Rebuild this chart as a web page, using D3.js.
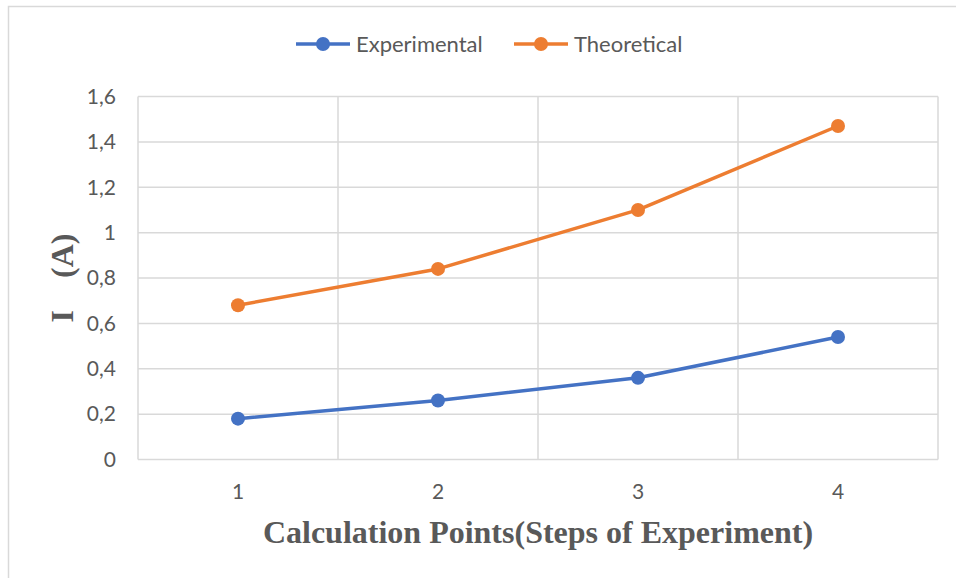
<!DOCTYPE html>
<html>
<head>
<meta charset="utf-8">
<script src="https://cdn.jsdelivr.net/npm/d3@7"></script>
<style>
  body { margin: 0; background: #fff; }
  svg { display: block; }
</style>
</head>
<body>
<svg width="956" height="578"></svg>
<script>
var categories = [1, 2, 3, 4];
var experimental = [0.18, 0.26, 0.36, 0.54];
var theoretical = [0.68, 0.84, 1.10, 1.47];
var yTicks = [0, 0.2, 0.4, 0.6, 0.8, 1, 1.2, 1.4, 1.6];
var seriesNames = ["Experimental", "Theoretical"];
var seriesColors = ["#4472C4", "#ED7D31"];

var svg = d3.select("svg");
var grey = "#595959";
var tickFont = "Lato, 'Open Sans', sans-serif";

// chart frame (only top and left edges are visible in the picture)
svg.append("rect")
  .attr("x", 8.5).attr("y", 6.5)
  .attr("width", 1000).attr("height", 1000)
  .attr("fill", "none").attr("stroke", "#d9d9d9").attr("stroke-width", 1.5);

var plotL = 138, plotR = 938, plotT = 96.5, plotB = 459.5;

var x = d3.scaleBand().domain(categories).range([plotL, plotR]);
var y = d3.scaleLinear().domain([0, 1.6]).range([plotB, plotT]);

// horizontal grid
svg.append("g").selectAll("line")
  .data(yTicks).enter().append("line")
  .attr("x1", plotL).attr("x2", plotR)
  .attr("y1", function(d) { return y(d); })
  .attr("y2", function(d) { return y(d); })
  .attr("stroke", "#d9d9d9").attr("stroke-width", 1.5);

// vertical grid at category boundaries
var bounds = categories.map(function(c) { return x(c); }).concat([plotR]);
svg.append("g").selectAll("line")
  .data(bounds).enter().append("line")
  .attr("x1", function(d) { return d; }).attr("x2", function(d) { return d; })
  .attr("y1", plotT).attr("y2", plotB)
  .attr("stroke", "#d9d9d9").attr("stroke-width", 1.5);

// y tick labels
svg.append("g").selectAll("text")
  .data(yTicks).enter().append("text")
  .attr("x", 116)
  .attr("y", function(d) { return y(d); })
  .attr("dy", "0.35em")
  .attr("text-anchor", "end")
  .attr("font-family", tickFont).attr("font-size", "21px")
  .attr("fill", grey)
  .text(function(d) { return String(d).replace(".", ","); });

// x tick labels
svg.append("g").selectAll("text")
  .data(categories).enter().append("text")
  .attr("x", function(d) { return x(d) + x.bandwidth() / 2; })
  .attr("y", 499)
  .attr("text-anchor", "middle")
  .attr("font-family", tickFont).attr("font-size", "21px")
  .attr("fill", grey)
  .text(function(d) { return d; });

// axis titles
svg.append("text")
  .attr("x", 538).attr("y", 543)
  .attr("text-anchor", "middle")
  .attr("font-family", "'Liberation Serif', 'Times New Roman', serif")
  .attr("font-weight", "bold").attr("font-size", "32px")
  .attr("fill", grey)
  .text("Calculation Points(Steps of Experiment)");

svg.append("text")
  .attr("transform", "translate(73,278) rotate(-90)")
  .attr("text-anchor", "middle")
  .attr("font-family", "'Liberation Serif', 'Times New Roman', serif")
  .attr("font-weight", "bold").attr("font-size", "32px")
  .attr("fill", grey)
  .attr("xml:space", "preserve")
  .text("I    (A)");

// series
var line = d3.line()
  .x(function(d, i) { return x(categories[i]) + x.bandwidth() / 2; })
  .y(function(d) { return y(d); });

[experimental, theoretical].forEach(function(vals, s) {
  svg.append("path")
    .datum(vals)
    .attr("d", line)
    .attr("fill", "none")
    .attr("stroke", seriesColors[s]).attr("stroke-width", 3.5)
    .attr("stroke-linejoin", "round").attr("stroke-linecap", "round");
  svg.append("g").selectAll("circle")
    .data(vals).enter().append("circle")
    .attr("cx", function(d, i) { return x(categories[i]) + x.bandwidth() / 2; })
    .attr("cy", function(d) { return y(d); })
    .attr("r", 7)
    .attr("fill", seriesColors[s]);
});

// legend
var legendX = [296, 514];
var legend = svg.append("g").selectAll("g")
  .data(seriesNames).enter().append("g")
  .attr("transform", function(d, i) { return "translate(" + legendX[i] + ",44)"; });
legend.append("line")
  .attr("x1", 0).attr("x2", 54)
  .attr("stroke", function(d, i) { return seriesColors[i]; })
  .attr("stroke-width", 3.5);
legend.append("circle")
  .attr("cx", 27).attr("r", 7)
  .attr("fill", function(d, i) { return seriesColors[i]; });
legend.append("text")
  .attr("x", 60).attr("dy", "0.35em")
  .attr("font-family", tickFont).attr("font-size", "22px")
  .attr("fill", grey)
  .text(function(d) { return d; });
</script>
</body>
</html>
